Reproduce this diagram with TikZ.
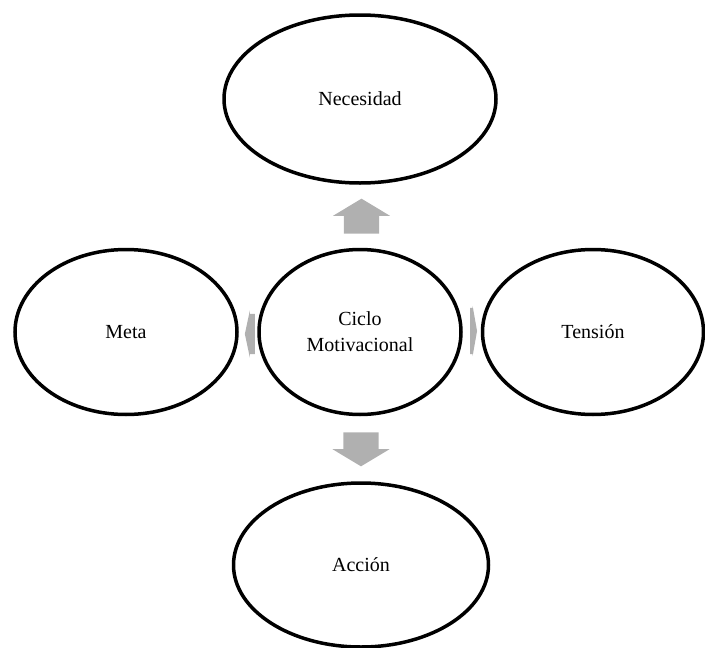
\documentclass[tikz,border=0pt]{standalone}
\usepackage{fontspec}
\setmainfont{Liberation Serif}
\usetikzlibrary{shapes.geometric,shapes.arrows}
\tikzset{stage/.style={ellipse, draw=black, line width=3.5pt, inner sep=0pt, outer sep=0pt, align=center, font=\fontsize{20}{26}\selectfont},
blockarrow/.style={single arrow, fill=gray!62, draw=none, inner sep=0pt, outer sep=0pt}}

\begin{document}
\begin{tikzpicture}[x=1pt, y=-1pt]
\useasboundingbox (0,0) rectangle (705,648);
%\draw[step=50,color=gray] (0,0) grid (705,648);
\node[stage, minimum width=272, minimum height=168] (nec) at (360,99) {Necesidad};
\node[stage, minimum width=202, minimum height=165] (ciclo) at (360,332) {Ciclo\\Motivacional};
\node[stage, minimum width=222, minimum height=165] (meta) at (126,332) {Meta};
\node[stage, minimum width=221, minimum height=165] (tens) at (593,332) {Tensión};
\node[stage, minimum width=255, minimum height=164] (acc) at (361,565) {Acción};
% arrows between the stages
\node[blockarrow, shape border rotate=90, inner xsep=17.5pt, minimum height=35, single arrow head extend=11, single arrow tip angle=118] (up) at (361.5,221.5) {};
\node[blockarrow, shape border rotate=270, inner xsep=17.5pt, minimum height=34, single arrow head extend=11, single arrow tip angle=118] (down) at (361,444) {};
\node[blockarrow, shape border rotate=180, inner ysep=20pt, minimum height=10, single arrow head extend=3.5, single arrow tip angle=156] (left) at (252,334) {};
\node[blockarrow, shape border rotate=0, inner ysep=23pt, minimum height=7, single arrow head extend=2, single arrow tip angle=160] (right) at (471.5,331) {};
\end{tikzpicture}
\end{document}
